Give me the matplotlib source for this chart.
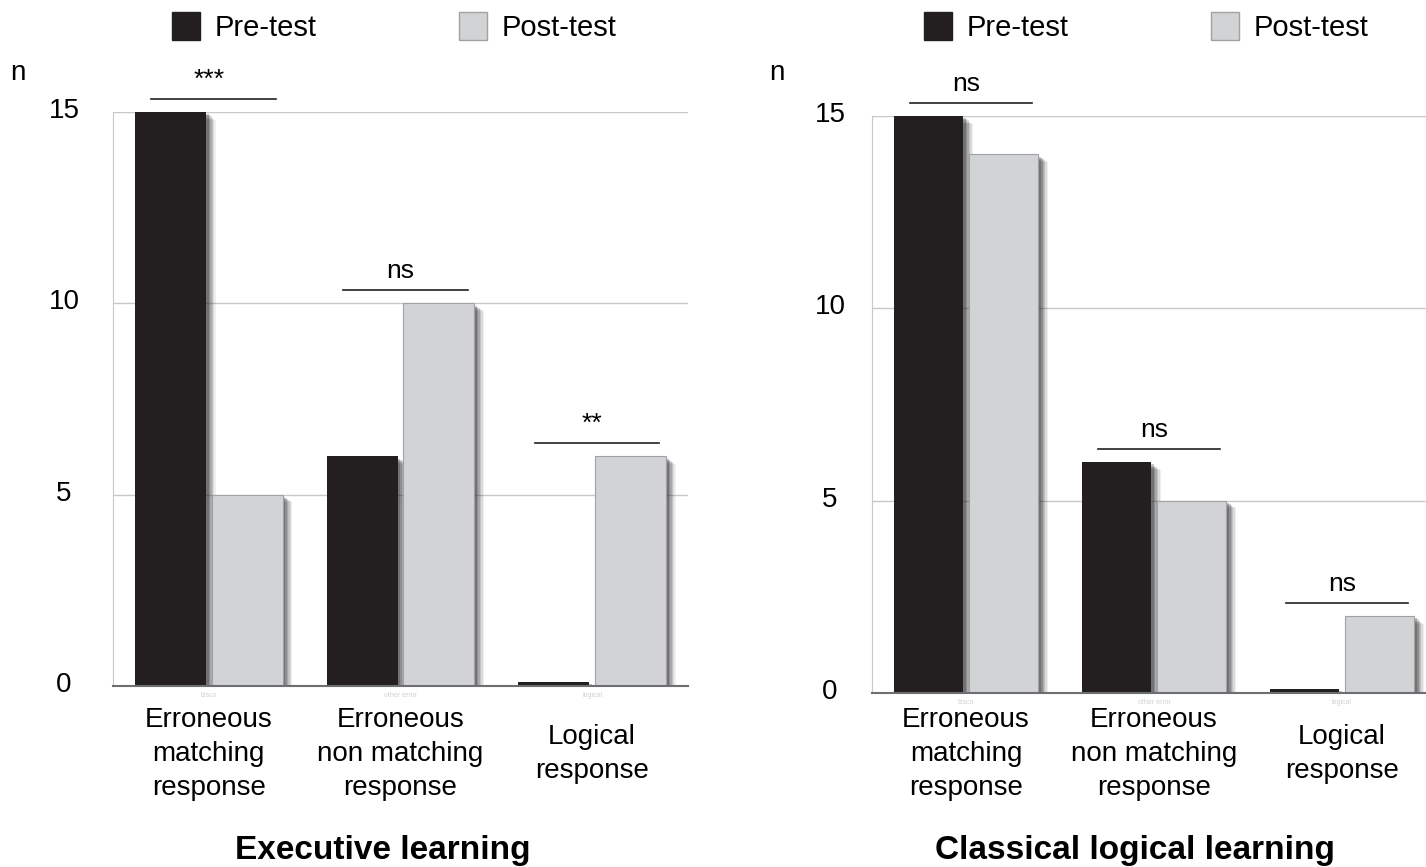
import matplotlib
matplotlib.use('Agg')
import matplotlib.pyplot as plt
import matplotlib.patheffects as pe
from matplotlib.patches import Patch
from matplotlib.transforms import blended_transform_factory, offset_copy

plt.rcParams['font.family'] = ['Liberation Sans', 'DejaVu Sans']

# dados
categorias = ['Erroneous\nmatching\nresponse', 'Erroneous\nnon matching\nresponse', 'Logical\nresponse']
rotulos_pequenos = ['bisco', 'other error', 'logical']
series = ['Pre-test', 'Post-test']
yticks = [0, 5, 10, 15]

exec_pre = [15, 6, 0.1]
exec_post = [5, 10, 6]
exec_sig = ['***', 'ns', '**']

class_pre = [15, 6, 0.1]
class_post = [14, 5, 2]
class_sig = ['ns', 'ns', 'ns']

titulos = ['Executive learning', 'Classical logical learning']

COR_PRE = '#231f20'
COR_POS = '#d1d3d4'
BORDA_POS = '#a0a2a5'

W, H = 1426, 867
fig = plt.figure(figsize=(W / 100, H / 100), dpi=100)


def px_ax(x0, x1, ytop, ybot):
    return [x0 / W, 1 - ybot / H, (x1 - x0) / W, (ybot - ytop) / H]


# sombra "borrada" feita com varias camadas
sombra = [pe.SimplePatchShadow(offset=(d, -d * 0.8), shadow_rgbFace='#222222', alpha=a)
          for d, a in [(7, 0.07), (6, 0.1), (5, 0.13), (4, 0.16), (3, 0.2), (2, 0.25)]]
sombra.append(pe.Normal())


def painel(ax, pre, post, sig, dist_y):
    xs = list(range(len(categorias)))
    larg = 0.37
    b1 = ax.bar([x - 0.2 for x in xs], pre, larg, color=COR_PRE, zorder=3)
    b2 = ax.bar([x + 0.2 for x in xs], post, larg, color=COR_POS,
                edgecolor=BORDA_POS, linewidth=0.8, zorder=3)
    for b in list(b1) + list(b2):
        b.set_path_effects(sombra)

    ax.set_xlim(-0.5, 2.5)
    ax.set_ylim(0, 15)
    ax.set_yticks(yticks)
    ax.set_yticklabels([])
    ax.tick_params(axis='y', length=0)
    tr = offset_copy(ax.get_yaxis_transform(), fig, x=-dist_y, y=1, units='dots')
    for v in yticks:
        ax.text(0, v, str(v), transform=tr, ha='center', va='center', fontsize=20)

    ax.set_xticks(xs)
    ax.set_xticklabels(rotulos_pequenos, fontsize=5, color='#d0d0d0')
    ax.tick_params(axis='x', length=0, pad=4)

    ax.grid(axis='y', color='#c8c8c8', linewidth=1, zorder=0)
    for s in ['top', 'right']:
        ax.spines[s].set_visible(False)
    ax.spines['left'].set_color('#c8c8c8')
    ax.spines['bottom'].set_color('#6d6e71')
    ax.spines['bottom'].set_linewidth(1.5)
    ax.spines['bottom'].set_zorder(4)

    # barras de significancia
    for x, a, b, s in zip(xs, pre, post, sig):
        y = max(a, b) + 0.35
        ax.plot([x - 0.3, x + 0.35], [y, y], color='#231f20', linewidth=1.2,
                clip_on=False, zorder=5)
        ax.text(x + 0.0, y + 0.18, s, ha='center', va='bottom', fontsize=19,
                clip_on=False)

    trans = blended_transform_factory(ax.transData, fig.transFigure)
    for x, c in zip(xs, categorias):
        ax.text(x, 1 - 754 / H, c, transform=trans, ha='center', va='center',
                fontsize=20, linespacing=1.38)


ax1 = fig.add_axes(px_ax(113, 688, 112, 686))
ax2 = fig.add_axes(px_ax(872, 1436, 116, 693))

painel(ax1, exec_pre, exec_post, exec_sig, 49)
painel(ax2, class_pre, class_post, class_sig, 42)

fig.text(383 / W, 1 - 850 / H, titulos[0], ha='center', va='center',
         fontsize=24, fontweight='bold')
fig.text(1135 / W, 1 - 850 / H, titulos[1], ha='center', va='center',
         fontsize=24, fontweight='bold')

fig.text(18 / W, 1 - 73 / H, 'n', ha='center', va='center', fontsize=20)
fig.text(777 / W, 1 - 73 / H, 'n', ha='center', va='center', fontsize=20)

handles = [Patch(facecolor=COR_PRE, edgecolor=COR_PRE),
           Patch(facecolor=COR_POS, edgecolor=BORDA_POS)]
for lx in [172, 924]:
    fig.legend(handles, series, loc='upper left',
               bbox_to_anchor=(lx / W, 1 - 12 / H), ncol=2, frameon=False,
               fontsize=21, handlelength=0.95, handleheight=1.1,
               handletextpad=0.5, columnspacing=4.9, borderpad=0,
               borderaxespad=0)

fig.savefig('out.png', dpi=100)
